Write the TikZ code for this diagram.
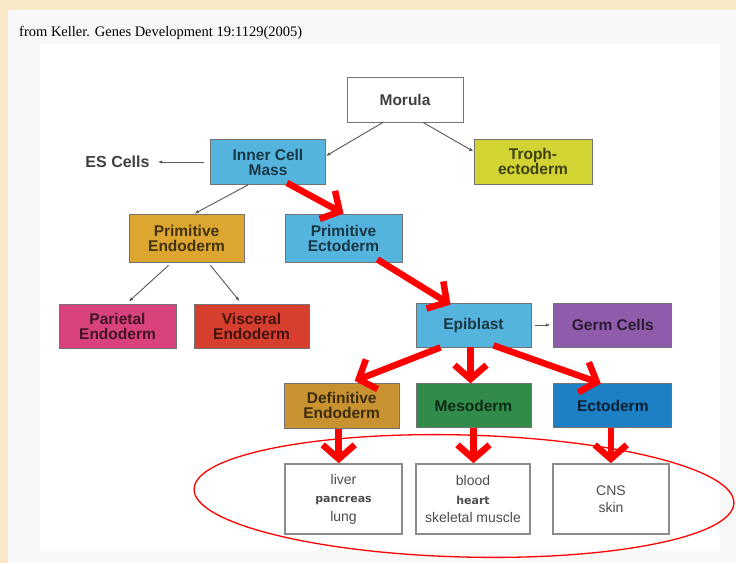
\documentclass[tikz,border=0pt]{standalone}
\usepackage{fontspec}
\usepackage{tikz}
\usetikzlibrary{shapes,arrows.meta,positioning}
\newfontfamily\cellfont{Liberation Sans}
\newfontfamily\notefont{Liberation Serif}
\newfontfamily\widefont{DejaVu Sans}
\definecolor{parchment}{RGB}{250,233,200}
\definecolor{panelgrey}{RGB}{248,248,248}
\definecolor{skyblue}{RGB}{84,180,222}
\definecolor{lime}{RGB}{210,212,52}
\definecolor{gold}{RGB}{220,166,48}
\definecolor{rosepink}{RGB}{217,66,124}
\definecolor{brick}{RGB}{214,62,46}
\definecolor{violet}{RGB}{142,92,170}
\definecolor{ochre}{RGB}{200,146,48}
\definecolor{leaf}{RGB}{48,140,72}
\definecolor{ocean}{RGB}{30,128,196}
\newcommand{\minor}[1]{{\widefont\bfseries\fontsize{11}{18.5}\selectfont #1}}

\begin{document}
\begin{tikzpicture}[x=1pt, y=-1pt]
    \tikzstyle{cellbox} = [draw=black!55, line width=0.8pt, rectangle, minimum width=115pt, minimum height=45pt, inner sep=1pt, align=center, font={\cellfont\bfseries\fontsize{15.5}{15}\selectfont}]
    \tikzstyle{tissuebox} = [draw=black!45, line width=1.6pt, fill=white, rectangle, minimum width=115pt, minimum height=70pt, align=center, text=black!70, font={\cellfont\fontsize{14}{18.5}\selectfont}]
    \tikzstyle{thinarrow} = [-{Latex[length=4.5pt,width=3.5pt]}, draw=black!65, line width=0.9pt]
    \tikzstyle{redarrow} = [-{Straight Barb[sharp,length=14pt,width=32pt]}, draw=red, line width=6.5pt]

    % page
    \useasboundingbox (0,0) rectangle (736,563);
    \fill[parchment] (0,0) rectangle (736,563);
    \fill[panelgrey] (8,10) rectangle (736,563);
    \fill[white] (40,44) rectangle (720,551);
    \node[anchor=west, inner sep=0, font={\notefont\fontsize{14.5}{15}\selectfont}] (source) at (19,33) {from Keller. Genes Development 19:1129(2005)};

    % cell types
    \node [cellbox, fill=white, minimum width=116pt, text=black!75] (morula) at (405,99.5) {Morula};
    \node [cellbox, fill=skyblue, text=skyblue!30!black] (icm) at (268,162) {Inner Cell\\Mass};
    \node [cellbox, fill=lime, minimum width=118pt, text=lime!30!black] (troph) at (533,161.5) {Troph-\\ectoderm};
    \node [inner sep=0, text=black!75, font={\cellfont\bfseries\fontsize{16}{16}\selectfont}] (es) at (117.5,162) {ES Cells};
    \node [cellbox, fill=gold, minimum height=48pt, text=gold!30!black] (primendo) at (186.5,238) {Primitive\\Endoderm};
    \node [cellbox, fill=skyblue, minimum width=117pt, minimum height=48pt, text=skyblue!30!black] (primecto) at (343.5,238) {Primitive\\Ectoderm};
    \node [cellbox, fill=rosepink, minimum width=117pt, minimum height=44pt, text=rosepink!30!black] (parietal) at (117.5,326) {Parietal\\Endoderm};
    \node [cellbox, fill=brick, minimum height=44pt, text=brick!30!black] (visceral) at (251.5,326) {Visceral\\Endoderm};
    \node [cellbox, fill=skyblue, minimum height=44pt, text=skyblue!30!black] (epiblast) at (473.5,325) {Epiblast};
    \node [cellbox, fill=violet, minimum width=118pt, minimum height=44pt, text=violet!30!black, right=22pt of epiblast] (germ) {Germ Cells};
    \node [cellbox, fill=leaf, minimum height=44pt, text=leaf!30!black, below=36pt of epiblast] (meso) {Mesoderm};
    \node [cellbox, fill=ochre, text=ochre!30!black, left=16pt of meso] (defendo) {Definitive\\Endoderm};
    \node [cellbox, fill=ocean, minimum width=118pt, minimum height=44pt, text=ocean!25!black, right=22pt of meso] (ecto) {Ectoderm};

    % tissues
    \node [tissuebox, minimum width=117pt] (liver) at (343.5,499) {liver\\\minor{pancreas}\\lung};
    \node [tissuebox, minimum width=114pt] (blood) at (473,499) {blood\\\minor{heart}\\skeletal muscle};
    \node [tissuebox, minimum width=116pt, font={\cellfont\fontsize{14}{17}\selectfont}] (cns) at (611,499) {CNS\\skin};
    \node [ellipse, draw=red, line width=1.3pt, minimum width=540pt, minimum height=122pt, rotate=-1.5] (organs) at (464,496) {};

    % lineage arrows
    \draw [thinarrow] ([xshift=-22pt]morula.south) -- ([yshift=6pt]icm.east);
    \draw [thinarrow] ([xshift=18pt]morula.south) -- ([yshift=10pt]troph.west);
    \draw [thinarrow, shorten <=6pt, shorten >=8pt] (icm.west) -- (es.east);
    \draw [thinarrow] ([xshift=-20pt]icm.south) -- ([xshift=8pt]primendo.north);
    \draw [thinarrow, shorten >=3pt] ([xshift=-18pt, yshift=-3pt]primendo.south) -- ([xshift=9pt]parietal.north);
    \draw [thinarrow, shorten >=3pt] ([xshift=24pt, yshift=-3pt]primendo.south) -- ([xshift=-10pt]visceral.north);
    \draw [thinarrow, shorten <=4pt, shorten >=3pt] (epiblast.east) -- (germ.west);
    \draw [redarrow] ([xshift=19pt, yshift=2pt]icm.south) -- (primecto.north);
    \draw [redarrow] ([xshift=-25pt, yshift=3pt]primecto.south east) -- ([xshift=-23pt, yshift=-2pt]epiblast.north);
    \draw [redarrow] ([xshift=-33pt]epiblast.south) -- ([xshift=13pt, yshift=2pt]defendo.north);
    \draw [redarrow] ([xshift=-3pt]epiblast.south) -- ([xshift=-3pt]meso.north);
    \draw [redarrow] ([xshift=20pt, yshift=2pt]epiblast.south) -- ([xshift=-12pt]ecto.north);
    \draw [redarrow] ([xshift=-3pt]defendo.south) -- ([xshift=-3pt]defendo.south |- liver.north);
    \draw [redarrow] (meso.south) -- (meso.south |- blood.north);
    \draw [redarrow] ([xshift=-2pt]ecto.south) -- ([xshift=-2pt]ecto.south |- cns.north);
\end{tikzpicture}
\end{document}
